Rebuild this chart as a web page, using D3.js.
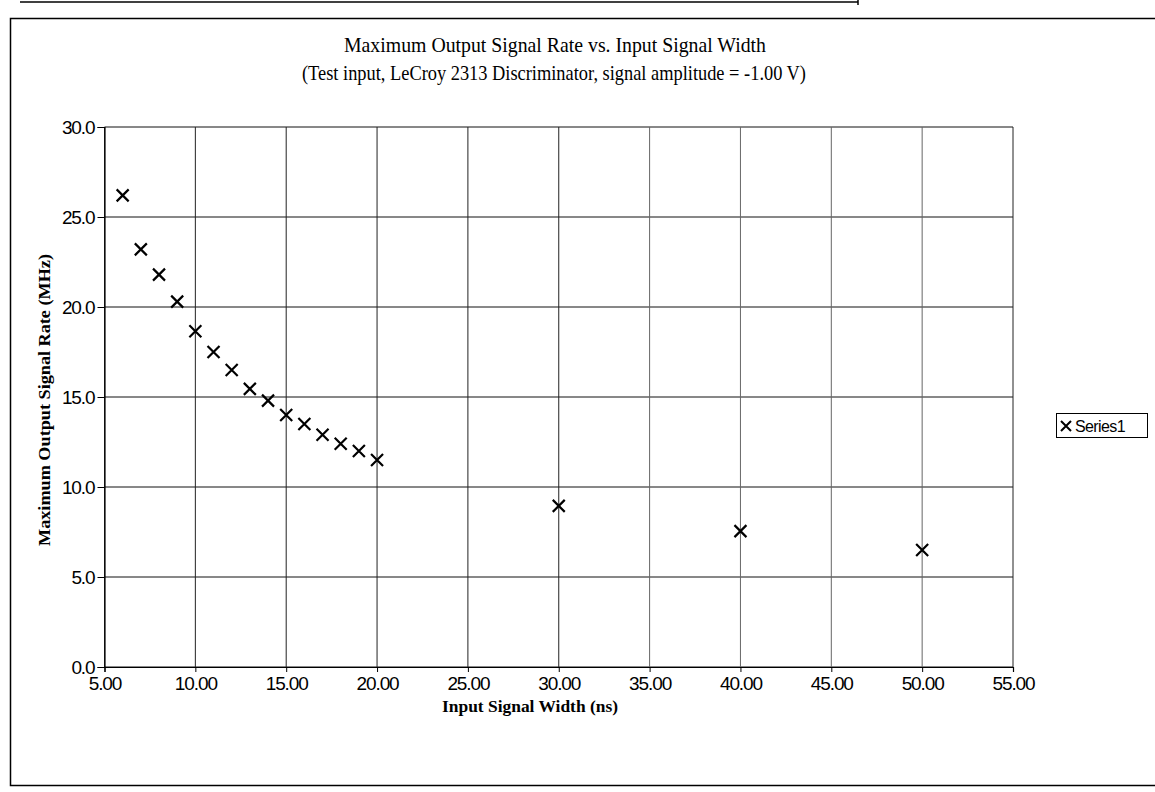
<!DOCTYPE html>
<html><head><meta charset="utf-8">
<script src="https://cdn.jsdelivr.net/npm/d3@7"></script>
<style>body{margin:0;background:#fff}svg{display:block}</style>
</head><body>
<svg id="c" width="1155" height="792"></svg>
<script>
const widths = [6,7,8,9,10,11,12,13,14,15,16,17,18,19,20,30,40,50];
const rates  = [26.2,23.2,21.8,20.3,18.65,17.5,16.5,15.45,14.8,14.0,13.5,12.9,12.4,12.0,11.5,8.95,7.55,6.5];
const xTicks = [5,10,15,20,25,30,35,40,45,50,55];
const yTicks = [0,5,10,15,20,25,30];
const title = "Maximum Output Signal Rate vs. Input Signal Width";
const subtitle = "(Test input, LeCroy 2313 Discriminator, signal amplitude = -1.00 V)";
const xLabel = "Input Signal Width (ns)";
const yLabel = "Maximum Output Signal Rate (MHz)";
const seriesName = "Series1";

const svg = d3.select("#c");
const L=104.5, R=1013, T=127, B=667;
const x = d3.scaleLinear().domain([5,55]).range([L,R]);
const y = d3.scaleLinear().domain([0,30]).range([B,T]);

// outer chart border
svg.append("rect").attr("x",10.5).attr("y",18.5).attr("width",1160).attr("height",767)
  .attr("fill","none").attr("stroke","#000").attr("stroke-width",1.5);
// top scan edge
svg.append("line").attr("x1",20).attr("x2",858).attr("y1",2).attr("y2",2).attr("stroke","#000").attr("stroke-width",1.5);
svg.append("line").attr("x1",858).attr("x2",858).attr("y1",0).attr("y2",5).attr("stroke","#000").attr("stroke-width",1.5);

// gridlines
svg.append("g").selectAll("line").data(yTicks).join("line")
  .attr("x1",L).attr("x2",R).attr("y1",d=>y(d)).attr("y2",d=>y(d))
  .attr("stroke","#111").attr("stroke-width",1);
svg.append("g").selectAll("line").data(xTicks).join("line")
  .attr("x1",d=>x(d)).attr("x2",d=>x(d)).attr("y1",T).attr("y2",B)
  .attr("stroke",d=>d>30&&d<55?"#666":"#222").attr("stroke-width",1);

// axes
const xa = svg.append("g").attr("transform",`translate(0,${B})`)
  .call(d3.axisBottom(x).tickValues(xTicks).tickFormat(d3.format(".2f")).tickSize(5).tickPadding(2));
const ya = svg.append("g").attr("transform",`translate(${L},0)`)
  .call(d3.axisLeft(y).tickValues(yTicks).tickFormat(d3.format(".1f")).tickSize(7).tickPadding(3));
[xa,ya].forEach(a=>{
  a.select(".domain").attr("stroke","#000").attr("stroke-width",1.2);
  a.selectAll(".tick line").attr("stroke","#000");
  a.selectAll("text").attr("fill","#000").attr("font-family","Liberation Sans, Arial, sans-serif")
   .attr("font-size",19).attr("letter-spacing",-1.1);
});
xa.selectAll("text").attr("dy","0.85em");

// markers
const s=6;
svg.append("g").selectAll("path").data(widths.map((w,i)=>[w,rates[i]])).join("path")
  .attr("d",d=>{const cx=x(d[0]), cy=y(d[1]);
    return `M${cx-s},${cy-s}L${cx+s},${cy+s}M${cx-s},${cy+s}L${cx+s},${cy-s}`;})
  .attr("stroke","#000").attr("stroke-width",2.2).attr("fill","none");

// titles
svg.append("text").attr("x",555).attr("y",52).attr("text-anchor","middle")
  .attr("font-family","Liberation Serif, Times New Roman, serif").attr("font-size",21)
  .attr("textLength",422).attr("lengthAdjust","spacingAndGlyphs").text(title);
svg.append("text").attr("x",554).attr("y",80).attr("text-anchor","middle")
  .attr("font-family","Liberation Serif, Times New Roman, serif").attr("font-size",21)
  .attr("textLength",504).attr("lengthAdjust","spacingAndGlyphs").text(subtitle);
svg.append("text").attr("x",530).attr("y",712).attr("text-anchor","middle")
  .attr("font-family","Liberation Serif, Times New Roman, serif").attr("font-size",16).attr("font-weight","bold")
  .attr("textLength",176).attr("lengthAdjust","spacingAndGlyphs").text(xLabel);
svg.append("text").attr("transform","translate(50,400) rotate(-90)").attr("text-anchor","middle")
  .attr("font-family","Liberation Serif, Times New Roman, serif").attr("font-size",17).attr("font-weight","bold")
  .attr("textLength",292).attr("lengthAdjust","spacingAndGlyphs").text(yLabel);

// legend
const lg = svg.append("g");
lg.append("rect").attr("x",1056.5).attr("y",413.5).attr("width",91).attr("height",24)
  .attr("fill","#fff").attr("stroke","#000").attr("stroke-width",1);
const lx=1066, ly=426, ls=5;
lg.append("path").attr("d",`M${lx-ls},${ly-ls}L${lx+ls},${ly+ls}M${lx-ls},${ly+ls}L${lx+ls},${ly-ls}`)
  .attr("stroke","#000").attr("stroke-width",2);
lg.append("text").attr("x",1075).attr("y",432).attr("font-family","Liberation Sans, Arial, sans-serif")
  .attr("font-size",16).attr("letter-spacing",-0.6).text(seriesName);
</script>
</body></html>
